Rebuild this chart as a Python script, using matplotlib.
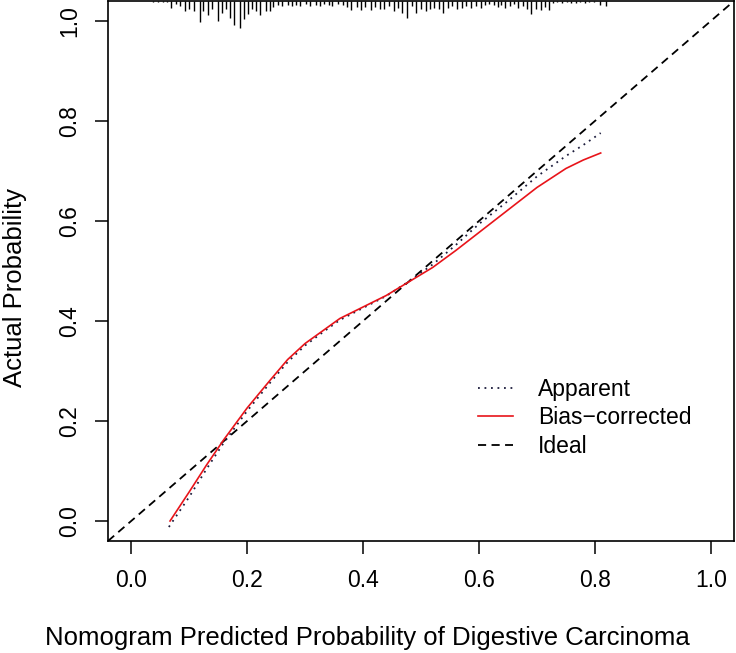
import matplotlib
matplotlib.use("Agg")
import numpy as np
import matplotlib.pyplot as plt

plt.rcParams["font.family"] = ["Liberation Sans", "DejaVu Sans"]

# ---------------------------------------------------------------------------
# Calibration curves
# ---------------------------------------------------------------------------
bias_x = [0.067, 0.10, 0.13, 0.16, 0.20, 0.24, 0.27, 0.30, 0.33, 0.36, 0.40,
          0.44, 0.48, 0.52, 0.56, 0.60, 0.65, 0.70, 0.75, 0.78, 0.81]
bias_y = [0.000, 0.058, 0.112, 0.163, 0.226, 0.282, 0.323, 0.355, 0.380, 0.405,
          0.428, 0.451, 0.479, 0.507, 0.541, 0.577, 0.622, 0.667, 0.705, 0.722, 0.736]

app_x = [0.065, 0.10, 0.13, 0.16, 0.20, 0.24, 0.27, 0.30, 0.33, 0.36, 0.40,
         0.44, 0.48, 0.52, 0.56, 0.60, 0.65, 0.70, 0.75, 0.78, 0.81]
app_y = [-0.012, 0.048, 0.104, 0.157, 0.220, 0.277, 0.318, 0.351, 0.377, 0.402,
         0.426, 0.450, 0.480, 0.513, 0.552, 0.594, 0.640, 0.689, 0.730, 0.752, 0.776]

# rug of predicted probabilities (position, relative spike length)
rug_x = [0.038, 0.047, 0.055, 0.062, 0.069, 0.078, 0.085, 0.093, 0.100, 0.109,
         0.118, 0.124, 0.133, 0.140, 0.149, 0.156, 0.164, 0.171, 0.178, 0.187,
         0.194, 0.201, 0.209, 0.216, 0.223, 0.232, 0.239, 0.245, 0.254, 0.261,
         0.270, 0.277, 0.285, 0.292, 0.301, 0.309, 0.318, 0.325, 0.332, 0.341,
         0.347, 0.356, 0.365, 0.372, 0.379, 0.389, 0.396, 0.404, 0.413, 0.420,
         0.430, 0.437, 0.444, 0.453, 0.460, 0.468, 0.475, 0.484, 0.491, 0.500,
         0.508, 0.515, 0.522, 0.531, 0.538, 0.546, 0.553, 0.562, 0.570, 0.577,
         0.586, 0.595, 0.603, 0.610, 0.617, 0.626, 0.633, 0.638, 0.645, 0.653,
         0.660, 0.667, 0.676, 0.683, 0.690, 0.698, 0.707, 0.714, 0.721, 0.728,
         0.735, 0.743, 0.752, 0.759, 0.768, 0.774, 0.783, 0.790, 0.799, 0.809,
         0.819]
rug_len = [0.7, 0.7, 0.7, 0.7, 7, 3, 5, 10, 8, 10,
           21, 10, 14, 8, 20, 12, 8, 17, 24, 27,
           18, 13, 8, 10, 14, 10, 10, 6, 4, 5,
           4, 5, 4, 5, 3, 5, 4, 5, 3, 4,
           5, 3, 4, 6, 9, 6, 9, 6, 9, 6,
           8, 8, 5, 10, 7, 12, 17, 5, 12, 8,
           10, 8, 7, 8, 12, 7, 5, 8, 7, 5,
           7, 5, 7, 4, 3, 4, 6, 4, 7, 5,
           3, 7, 5, 8, 13, 8, 9, 6, 9, 2,
           1, 2, 1, 2, 2, 1, 2, 1, 1, 4,
           5]

ticks = [0.0, 0.2, 0.4, 0.6, 0.8, 1.0]
tick_labels = ["0.0", "0.2", "0.4", "0.6", "0.8", "1.0"]

# ---------------------------------------------------------------------------
fig = plt.figure(figsize=(7.36, 6.53), dpi=100)
ax = fig.add_axes([108 / 736, 112 / 653, 626 / 736, 540 / 653])

lo, hi = -0.04, 1.04
ax.set_xlim(lo, hi)
ax.set_ylim(lo, hi)

ax.axline((0, 0), (1, 1), color="black", lw=1.3, ls=(0, (4.5, 3)), label="Ideal")
ax.plot(app_x, app_y, color="#1c1c3c", lw=1.3, ls=(0, (1, 2.6)), label="Apparent")
ax.plot(bias_x, bias_y, color="#e8141a", lw=1.2, label="Bias\u2212corrected")

rug_h = np.array(rug_len) / 500.0
ax.vlines(rug_x, hi - rug_h, hi, color="black", lw=1.0)

fs = 16.5
lab_fs = 18.5
ax.set_xticks(ticks)
ax.set_xticklabels(tick_labels)
ax.set_yticks(ticks)
ax.set_yticklabels(tick_labels, rotation=90, va="center")
ax.tick_params(axis="both", direction="out", length=9.5, width=1.1,
               labelsize=fs, pad=11)
ax.tick_params(axis="y", pad=10)
for sp in ax.spines.values():
    sp.set_linewidth(1.2)

ax.set_xlabel("Nomogram Predicted Probability of Digestive Carcinoma",
              fontsize=lab_fs, va="center", ha="center")
ax.xaxis.set_label_coords(0.414, -0.18)
ax.set_ylabel("Actual Probability", fontsize=lab_fs, va="center", ha="center")
ax.yaxis.set_label_coords(-0.149, 0.47)

h, l = ax.get_legend_handles_labels()
order = [1, 2, 0]
ax.legend([h[i] for i in order], [l[i] for i in order],
          loc="center left", bbox_to_anchor=(478 / 736, (653 - 418) / 653),
          bbox_transform=fig.transFigure, frameon=False, fontsize=fs,
          handlelength=1.53, handletextpad=1.09, labelspacing=0.22,
          borderpad=0, borderaxespad=0)

fig.savefig("out.png", dpi=100)
